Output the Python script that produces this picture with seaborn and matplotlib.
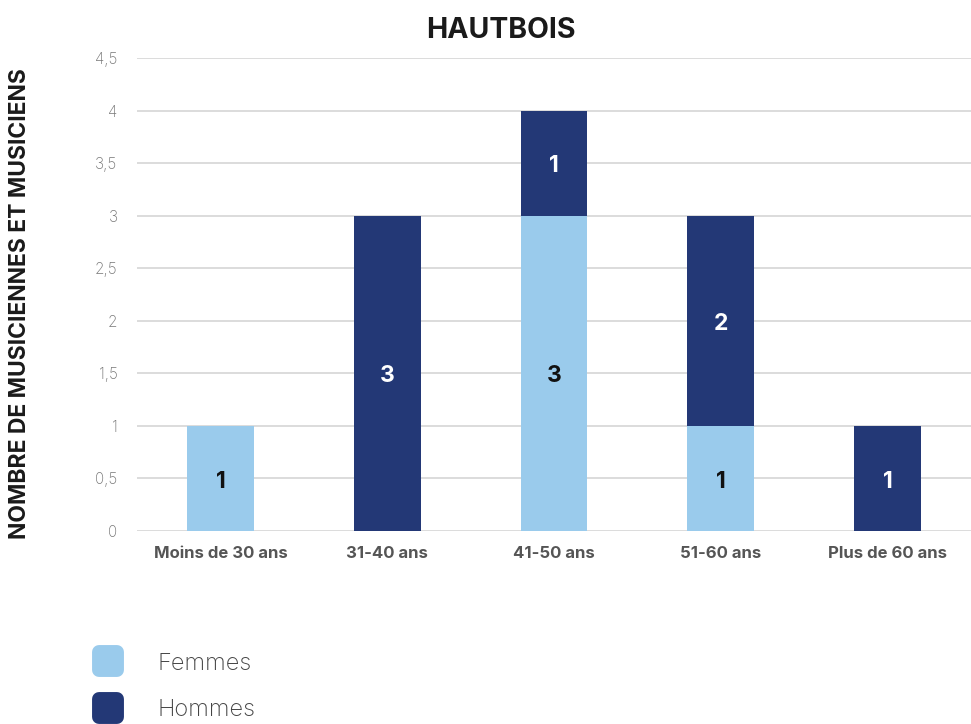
import matplotlib
matplotlib.use("Agg")
import matplotlib.pyplot as plt
import seaborn as sns
import pandas as pd
from matplotlib.lines import Line2D
from matplotlib.markers import MarkerStyle

categories = ["Moins de 30 ans", "31-40 ans", "41-50 ans", "51-60 ans", "Plus de 60 ans"]
femmes = [1, 0, 3, 1, 0]
hommes = [0, 3, 1, 2, 1]
yticks = [0, 0.5, 1, 1.5, 2, 2.5, 3, 3.5, 4, 4.5]
ytick_labels = ["0", "0,5", "1", "1,5", "2", "2,5", "3", "3,5", "4", "4,5"]

c_f = "#9ACBEC"
c_h = "#233876"

sns.set_theme(style="white")
plt.rcParams['font.family'] = ['Inter', 'DejaVu Sans']

df = pd.DataFrame({"cat": categories, "Femmes": femmes, "Hommes": hommes})
df["Total"] = df["Femmes"] + df["Hommes"]

fig = plt.figure(figsize=(9.71, 7.24), dpi=100)
ax = fig.add_axes([137/971, 1-531/724, 1-137/971, (531-58)/724])

sns.barplot(data=df, x="cat", y="Total", color=c_h, width=0.4, ax=ax, saturation=1, zorder=3, linewidth=0)
sns.barplot(data=df, x="cat", y="Femmes", color=c_f, width=0.4, ax=ax, saturation=1, zorder=3, linewidth=0)

for i, (f, h) in enumerate(zip(femmes, hommes)):
    if f > 0:
        ax.text(i, f/2 - 0.03, str(f), ha="center", va="center", fontsize=16.5, fontweight="bold", color="#111111", zorder=5)
    if h > 0:
        ax.text(i, f + h/2 - 0.03, str(h), ha="center", va="center", fontsize=16.5, fontweight="bold", color="white", zorder=5)

ax.set_ylim(0, 4.5)
ax.set_xlim(-0.5, 4.5)
ax.set_yticks(yticks)
ax.set_yticklabels(ytick_labels, fontsize=11, color="#777777", fontweight="light")
ax.yaxis.grid(True, color="#d9d9d9", linewidth=1.3, zorder=0)
ax.set_axisbelow(True)
ax.tick_params(axis="y", length=0, pad=14)
ax.tick_params(axis="x", length=0, pad=11)
for lbl in ax.get_xticklabels():
    lbl.set_fontsize(12)
    lbl.set_fontweight("bold")
    lbl.set_color("#555555")
for s in ax.spines.values():
    s.set_visible(False)
ax.set_xlabel("")
ax.set_ylabel("")

fig.text(501/971, 1-30/724, "HAUTBOIS", ha="center", va="center", fontsize=20.5, fontweight="bold", color="#1a1a1a")
fig.text(20/971, 1-304/724, "NOMBRE DE MUSICIENNES ET MUSICIENS", rotation=90, ha="center", va="center",
         fontsize=16.5, fontweight="bold", color="#1a1a1a")

ms = MarkerStyle("s", joinstyle="round")
handles = [Line2D([], [], linestyle="none", marker=ms, markersize=13, markerfacecolor=c_f,
                  markeredgecolor=c_f, markeredgewidth=10),
           Line2D([], [], linestyle="none", marker=ms, markersize=13, markerfacecolor=c_h,
                  markeredgecolor=c_h, markeredgewidth=10)]
leg = fig.legend(handles, ["Femmes", "Hommes"], loc="center left",
                 bbox_to_anchor=(82/971, 1-687/724), frameon=False, fontsize=17,
                 handletextpad=1.5, labelspacing=1.05, handlelength=1.2, borderpad=0)
for t in leg.get_texts():
    t.set_color("#444444")
    t.set_fontweight("light")

fig.savefig("out.png", dpi=100)
